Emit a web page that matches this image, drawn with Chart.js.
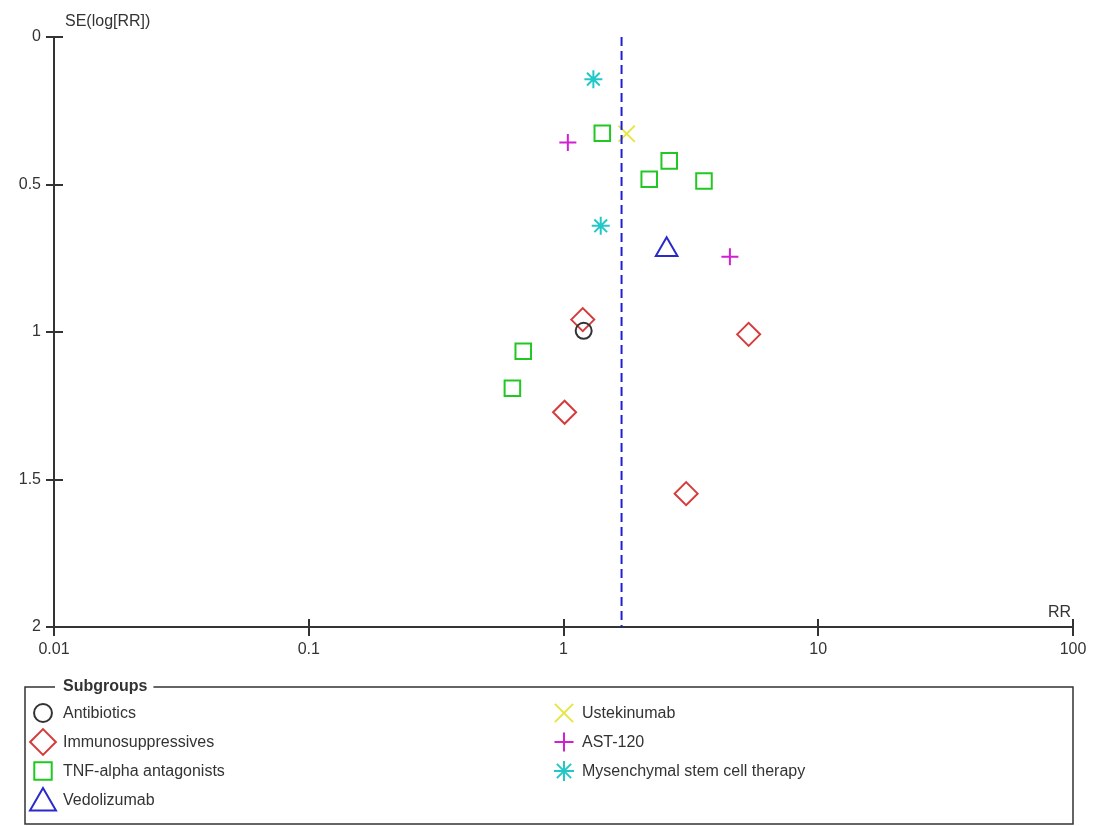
<!DOCTYPE html>
<html>
<head>
<meta charset="utf-8">
<script src="https://cdn.jsdelivr.net/npm/chart.js@4.4.1/dist/chart.umd.min.js"></script>
<style>
  body { margin: 0; background: #fff; }
  #wrap { width: 1101px; height: 826px; }
</style>
</head>
<body>
<div id="wrap"><canvas id="funnel" width="1101" height="826"></canvas></div>
<script>
// Funnel plot data (RR, SE of log RR) per subgroup
const antibioticsRR = [1.20];
const antibioticsSE = [0.996];
const immunoRR = [1.19, 5.33, 1.01, 3.03];
const immunoSE = [0.958, 1.008, 1.272, 1.548];
const tnfRR = [1.42, 2.60, 2.17, 3.56, 0.695, 0.630];
const tnfSE = [0.326, 0.420, 0.482, 0.488, 1.065, 1.191];
const vedolizumabRR = [2.54];
const vedolizumabSE = [0.721];
const ustekinumabRR = [1.77];
const ustekinumabSE = [0.328];
const ast120RR = [1.04, 4.50];
const ast120SE = [0.358, 0.745];
const mscRR = [1.31, 1.40];
const mscSE = [0.143, 0.640];

const pooledRR = 1.69;

const xTicks = [0.01, 0.1, 1, 10, 100];
const xTickLabels = ['0.01', '0.1', '1', '10', '100'];
const yTicks = [0, 0.5, 1, 1.5, 2];
const yTickLabels = ['0', '0.5', '1', '1.5', '2'];

const textColor = '#333';
const font = '"Liberation Sans", Arial, sans-serif';

function pts(xs, ys) {
    return xs.map((v, i) => ({ x: v, y: ys[i] }));
}

function group(label, xs, ys, color, style, radius) {
    return {
        type: 'scatter',
        label: label,
        data: pts(xs, ys),
        pointStyle: style,
        pointRadius: radius,
        pointHoverRadius: radius,
        pointBorderWidth: 2,
        borderColor: color,
        backgroundColor: 'rgba(0,0,0,0)'
    };
}

const groups = [
    group('Antibiotics', antibioticsRR, antibioticsSE, '#333333', 'circle', 8),
    group('Immunosuppressives', immunoRR, immunoSE, '#d63b3b', 'rectRot', 11.5),
    group('TNF-alpha antagonists', tnfRR, tnfSE, '#22c822', 'rect', 11),
    group('Vedolizumab', vedolizumabRR, vedolizumabSE, '#2a2acc', 'triangle', 12.5),
    group('Ustekinumab', ustekinumabRR, ustekinumabSE, '#e6e640', 'crossRot', 11.5),
    group('AST-120', ast120RR, ast120SE, '#d21fd2', 'cross', 8.5),
    group('Mysenchymal stem cell therapy', mscRR, mscSE, '#22c8c8', 'star', 9)
];

const pooledLine = {
    type: 'line',
    label: 'pooled',
    data: [{ x: pooledRR, y: 0 }, { x: pooledRR, y: 2 }],
    borderColor: '#1f1fd6',
    borderWidth: 2,
    borderDash: [9, 5],
    pointRadius: 0,
    fill: false
};

// axes with ticks crossing the axis lines, plus axis titles
const axesPlugin = {
    id: 'axesPlugin',
    beforeDatasetsDraw(chart) {
        const ctx = chart.ctx;
        const xs = chart.scales.x, ys = chart.scales.y;
        const a = chart.chartArea;
        ctx.save();
        ctx.strokeStyle = '#333';
        ctx.lineWidth = 2;
        ctx.beginPath();
        ctx.moveTo(a.left, a.top);
        ctx.lineTo(a.left, a.bottom);
        ctx.lineTo(a.right, a.bottom);
        ctx.stroke();
        xTicks.forEach(v => {
            const px = Math.round(xs.getPixelForValue(v));
            ctx.beginPath();
            ctx.moveTo(px, a.bottom - 8);
            ctx.lineTo(px, a.bottom + 9);
            ctx.stroke();
        });
        yTicks.forEach(v => {
            const py = Math.round(ys.getPixelForValue(v));
            ctx.beginPath();
            ctx.moveTo(a.left - 8, py);
            ctx.lineTo(a.left + 9, py);
            ctx.stroke();
        });
        ctx.fillStyle = textColor;
        ctx.font = '16px ' + font;
        ctx.textBaseline = 'alphabetic';
        ctx.textAlign = 'left';
        ctx.fillText('SE(log[RR])', 65, 26);
        ctx.textAlign = 'right';
        ctx.fillText('RR', 1071, 617);
        ctx.restore();
    }
};

// boxed legend with the title set into the top border
const legendPlugin = {
    id: 'boxLegend',
    afterDraw(chart) {
        const ctx = chart.ctx;
        const left = 25, top = 687, right = 1073, bottom = 824;
        ctx.save();
        ctx.font = 'bold 16px ' + font;
        const titleW = ctx.measureText('Subgroups').width;
        ctx.strokeStyle = '#333';
        ctx.lineWidth = 1.5;
        ctx.beginPath();
        ctx.moveTo(55, top);
        ctx.lineTo(left, top);
        ctx.lineTo(left, bottom);
        ctx.lineTo(right, bottom);
        ctx.lineTo(right, top);
        ctx.lineTo(62 + titleW + 7, top);
        ctx.stroke();
        ctx.fillStyle = textColor;
        ctx.textBaseline = 'middle';
        ctx.textAlign = 'left';
        ctx.fillText('Subgroups', 63, top);

        ctx.font = '16px ' + font;
        const rowY = [713, 742, 771, 800];
        const cols = [{ mx: 43, tx: 63 }, { mx: 564, tx: 582 }];
        groups.forEach((g, i) => {
            const col = i < 4 ? cols[0] : cols[1];
            const y = rowY[i < 4 ? i : i - 4];
            ctx.strokeStyle = g.borderColor;
            ctx.fillStyle = 'rgba(0,0,0,0)';
            ctx.lineWidth = 2;
            let r = g.pointRadius * 1.12;
            let yy = y;
            if (g.pointStyle === 'triangle') { r = 15; yy = y + 3; }
            Chart.helpers.drawPoint(ctx, { pointStyle: g.pointStyle, radius: r, rotation: 0, borderWidth: 2 }, col.mx, yy);
            ctx.fillStyle = textColor;
            ctx.fillText(g.label, col.tx, y + 1);
        });
        ctx.restore();
    }
};

const ctx = document.getElementById('funnel').getContext('2d');
const funnelChart = new Chart(ctx, {
    data: {
        datasets: [pooledLine, ...groups]
    },
    options: {
        responsive: false,
        animation: false,
        layout: { padding: { top: 37, right: 28, left: 0, bottom: 0 } },
        plugins: {
            legend: { display: false },
            tooltip: { enabled: false }
        },
        scales: {
            x: {
                type: 'logarithmic',
                min: 0.01,
                max: 100,
                grid: { display: false },
                border: { display: false },
                afterBuildTicks: s => { s.ticks = xTicks.map(v => ({ value: v })); },
                afterFit: s => { s.height = 826 - 627; },
                ticks: {
                    color: textColor,
                    font: { family: font, size: 16 },
                    padding: 5,
                    maxRotation: 0,
                    autoSkip: false,
                    callback: (v) => xTickLabels[xTicks.indexOf(v)]
                }
            },
            y: {
                type: 'linear',
                reverse: true,
                min: 0,
                max: 2,
                grid: { display: false },
                border: { display: false },
                afterBuildTicks: s => { s.ticks = yTicks.map(v => ({ value: v })); },
                afterFit: s => { s.width = 54; },
                ticks: {
                    color: textColor,
                    font: { family: font, size: 16 },
                    padding: 5,
                    autoSkip: false,
                    callback: (v) => yTickLabels[yTicks.indexOf(v)]
                }
            }
        }
    },
    plugins: [axesPlugin, legendPlugin]
});
</script>
</body>
</html>
